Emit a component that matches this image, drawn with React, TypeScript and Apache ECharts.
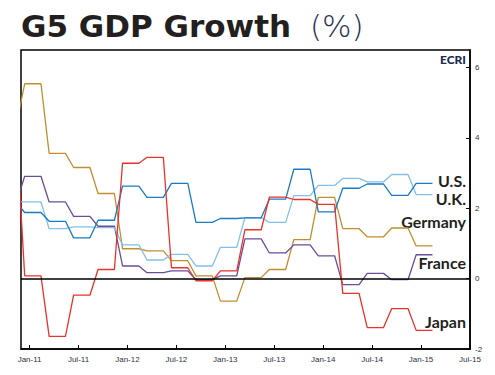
import React, { useEffect, useRef } from "react";
import * as echarts from "echarts";

// Quarterly real GDP growth, yoy % (Q4-2010 .. Q1-2015)
const quarters = [
  "Q4-10", "Q1-11", "Q2-11", "Q3-11", "Q4-11", "Q1-12", "Q2-12", "Q3-12", "Q4-12",
  "Q1-13", "Q2-13", "Q3-13", "Q4-13", "Q1-14", "Q2-14", "Q3-14", "Q4-14", "Q1-15",
];
const germany = [4.4, 5.54, 3.56, 3.16, 2.42, 0.85, 0.79, 0.51, 0.08, -0.64, 0.03, 0.26, 1.11, 2.31, 1.42, 1.19, 1.44, 0.93];
const france = [2.16, 2.91, 2.18, 1.77, 1.49, 0.36, 0.17, 0.22, -0.03, 0.08, 1.13, 0.73, 0.96, 0.65, -0.17, 0.15, -0.03, 0.68];
const us = [2.16, 1.88, 1.63, 1.16, 1.66, 2.63, 2.31, 2.71, 1.6, 1.71, 1.73, 2.26, 3.11, 1.9, 2.57, 2.69, 2.37, 2.71];
const uk = [2.2, 2.18, 1.42, 1.47, 1.45, 0.96, 0.53, 0.69, 0.36, 0.89, 1.73, 1.6, 2.36, 2.65, 2.85, 2.75, 2.96, 2.39];
const japan = [4.15, 0.08, -1.64, -0.47, 0.26, 3.28, 3.45, 0.31, -0.06, 0.22, 1.39, 2.32, 2.25, 2.11, -0.42, -1.39, -0.85, -1.47];

const xTickLabels = ["Jan-11", "Jul-11", "Jan-12", "Jul-12", "Jan-13", "Jul-13", "Jan-14", "Jul-14", "Jan-15", "Jul-15"];
const yTickValues = [-2, 0, 2, 4, 6];

// month index: Jan-11 = 0 ; first quarter in arrays is Q4-10
const FIRST_Q = -1;
const Q_OFFSET = -0.6; // plotting offset of each quarter's first month

function toSteps(values: number[]) {
  const pts: [number, number][] = [];
  values.forEach((v, i) => {
    const q = FIRST_Q + i;
    pts.push([3 * q + Q_OFFSET, v]);
    pts.push([3 * q + Q_OFFSET + 2, v]);
  });
  return pts;
}

const xTickValues = xTickLabels.map((_, i) => i * 6);

export default function App() {
  const ref = useRef<HTMLDivElement>(null);
  useEffect(() => {
    if (!ref.current) return;
    const chart = echarts.init(ref.current, null, { renderer: "svg" });
    const lineSeries = (name: string, values: number[], color: string, extra: any = {}) => ({
      name,
      type: "line",
      data: toSteps(values),
      showSymbol: false,
      symbol: "none",
      clip: true,
      lineStyle: { color, width: 1.3 },
      itemStyle: { color },
      ...extra,
    });
    chart.setOption({
      animation: false,
      grid: { left: 21, right: 25, top: 50, bottom: 26, show: true, borderColor: "#000", borderWidth: 1.5, backgroundColor: "transparent" },
      xAxis: {
        type: "value",
        min: -1.05,
        max: 54,
        axisLine: { show: true, onZero: false, lineStyle: { color: "#000", width: 1.5 } },
        splitLine: { show: false },
        axisTick: { show: true, inside: true, length: 4, customValues: xTickValues, lineStyle: { color: "#000", width: 1 } },
        axisLabel: {
          customValues: xTickValues,
          formatter: (v: number) => xTickLabels[Math.round(v / 6)] ?? "",
          fontSize: 8,
          fontFamily: "Liberation Sans",
          color: "#2f3140",
          margin: 6,
          showMaxLabel: true,
          showMinLabel: true,
        },
      },
      yAxis: {
        type: "value",
        position: "right",
        min: -2,
        max: 6.5,
        axisLine: { show: true, onZero: false, lineStyle: { color: "#000", width: 1.5 } },
        splitLine: { show: false },
        axisTick: { show: true, inside: true, length: 4, customValues: yTickValues, lineStyle: { color: "#000", width: 1 } },
        axisLabel: {
          customValues: yTickValues,
          fontSize: 8,
          fontFamily: "Liberation Sans",
          color: "#2f3140",
          margin: 5,
        },
      },
      series: [
        lineSeries("Germany", germany, "#bf8f2e", {
          markLine: {
            silent: true,
            symbol: "none",
            label: { show: false },
            lineStyle: { color: "#000", width: 1.5, type: "solid" },
            data: [{ yAxis: 0 }],
          },
        }),
        lineSeries("France", france, "#6b4c9a"),
        lineSeries("U.K.", uk, "#82c0e8"),
        lineSeries("U.S.", us, "#1a7ac4"),
        lineSeries("Japan", japan, "#e8322b"),
      ],
      graphic: [
        { type: "text", left: 21, top: 10, style: { text: "G5 GDP Growth", font: "bold 31px 'DejaVu Sans'", fill: "#231f20" } },
        { type: "text", left: 310, top: 10, style: { text: "(%)", font: "200 31px 'DejaVu Sans'", fill: "#2a3050" } },
        { type: "text", x: 466, y: 59.5, style: { text: "ECRI", font: "900 12px Lato", fill: "#1b2a4e", align: "right", verticalAlign: "middle" } },
        { type: "text", x: 466, y: 180, style: { text: "U.S.", font: "bold 16px Lato", fill: "#231f20", align: "right", verticalAlign: "middle" } },
        { type: "text", x: 466, y: 198, style: { text: "U.K.", font: "bold 16px Lato", fill: "#231f20", align: "right", verticalAlign: "middle" } },
        { type: "text", x: 466, y: 221, style: { text: "Germany", font: "bold 16px Lato", fill: "#231f20", align: "right", verticalAlign: "middle" } },
        { type: "text", x: 466, y: 262.5, style: { text: "France", font: "bold 16px Lato", fill: "#231f20", align: "right", verticalAlign: "middle" } },
        { type: "text", x: 466, y: 321, style: { text: "Japan", font: "bold 16px Lato", fill: "#231f20", align: "right", verticalAlign: "middle" } },
      ],
    });
    return () => chart.dispose();
  }, []);
  return <div ref={ref} style={{ width: 495, height: 375, position: "absolute", left: 0, top: 0 }} />;
}
